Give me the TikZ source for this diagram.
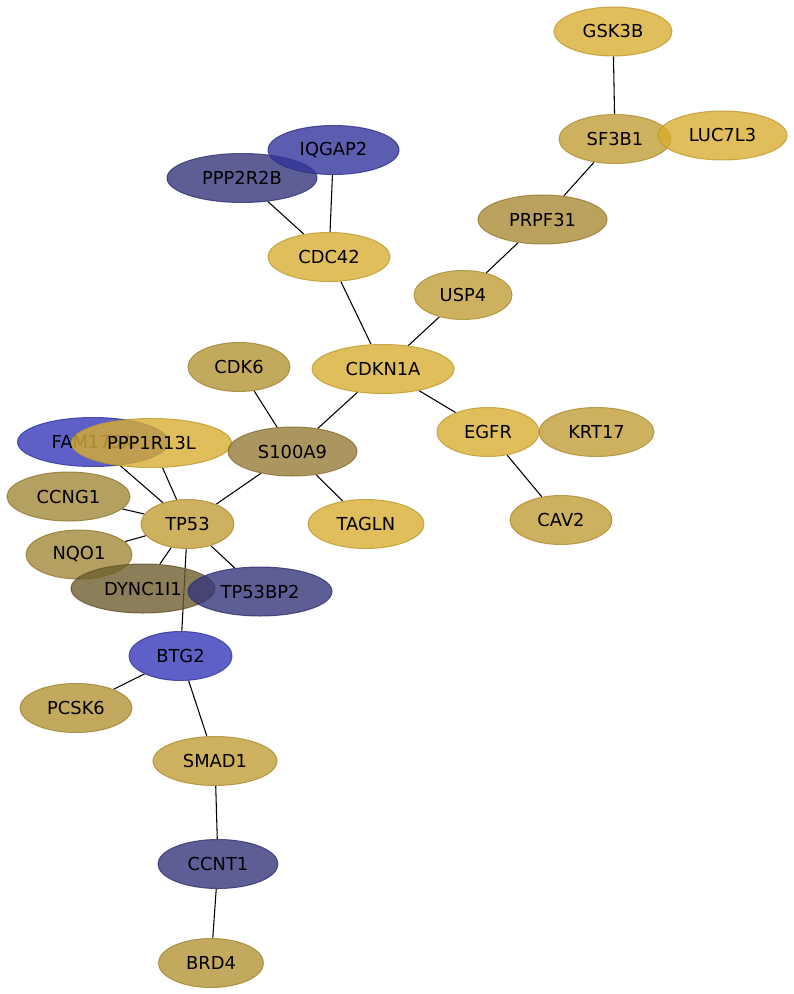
\documentclass[tikz,border=0pt]{standalone}
\usepackage{fontspec}
\setmainfont{DejaVu Sans}
\usetikzlibrary{shapes.geometric}
\pgfdeclarelayer{bg}
\pgfsetlayers{bg,main}
\definecolor{goldish}{HTML}{D7AE32}
\definecolor{tanish}{HTML}{C19E36}
\definecolor{khaki}{HTML}{B39436}
\definecolor{prpf}{HTML}{A98A36}
\definecolor{sbrown}{HTML}{977C38}
\definecolor{ccng}{HTML}{A18838}
\definecolor{olive}{HTML}{6E5E2E}
\definecolor{blueish}{HTML}{3737BA}
\definecolor{iqblue}{HTML}{33339C}
\definecolor{navy}{HTML}{36367C}

\begin{document}
\begin{tikzpicture}[x=0.75pt,y=-0.75pt,
  prot/.style 2 args={ellipse,fill=#1,draw=#1!88!black,line width=0.75pt,
    fill opacity=0.8,draw opacity=0.8,text opacity=1,inner sep=0pt,
    minimum height=49*0.75pt,minimum width=#2*0.75pt,font=\fontsize{13.4}{15}\selectfont},
  link/.style={black,line width=0.8pt}]
  \useasboundingbox (0,0) rectangle (793,994);
  \node[prot={goldish}{118}] (GSK3B) at (613,31.5) {GSK3B};
  \node[prot={tanish}{112}] (SF3B1) at (615,139) {SF3B1};
  \node[prot={goldish}{129}] (LUC7L3) at (722.5,135.5) {LUC7L3};
  \node[prot={navy}{150}] (PPP2R2B) at (242,178) {PPP2R2B};
  \node[prot={iqblue}{131}] (IQGAP2) at (333.5,150) {IQGAP2};
  \node[prot={prpf}{129}] (PRPF31) at (542.5,219.5) {PRPF31};
  \node[prot={goldish}{122}] (CDC42) at (329,257) {CDC42};
  \node[prot={tanish}{98}] (USP4) at (463,295) {USP4};
  \node[prot={khaki}{102}] (CDK6) at (239,367) {CDK6};
  \node[prot={goldish}{142}] (CDKN1A) at (383,369) {CDKN1A};
  \node[prot={blueish}{151}] (FAM175A) at (93,442) {FAM175A};
  \node[prot={goldish}{160}] (PPP1R13L) at (151.5,443) {PPP1R13L};
  \node[prot={sbrown}{129}] (S100A9) at (292.5,451.5) {S100A9};
  \node[prot={goldish}{102}] (EGFR) at (488,432) {EGFR};
  \node[prot={tanish}{115}] (KRT17) at (596.5,432) {KRT17};
  \node[prot={ccng}{123}] (CCNG1) at (68.5,496.5) {CCNG1};
  \node[prot={tanish}{93}] (TP53) at (187.5,524) {TP53};
  \node[prot={goldish}{116}] (TAGLN) at (366,524) {TAGLN};
  \node[prot={tanish}{102}] (CAV2) at (561,520) {CAV2};
  \node[prot={ccng}{106}] (NQO1) at (79,554.5) {NQO1};
  \node[prot={olive}{144}] (DYNC1I1) at (143,588.5) {DYNC1I1};
  \node[prot={navy}{144}] (TP53BP2) at (260,591.5) {TP53BP2};
  \node[prot={blueish}{103}] (BTG2) at (180.5,656) {BTG2};
  \node[prot={khaki}{112}] (PCSK6) at (76,708) {PCSK6};
  \node[prot={tanish}{124}] (SMAD1) at (215,761) {SMAD1};
  \node[prot={navy}{120}] (CCNT1) at (218,864) {CCNT1};
  \node[prot={khaki}{105}] (BRD4) at (211,963) {BRD4};
  % interactions
  \begin{pgfonlayer}{bg}
    \draw[link] (GSK3B)--(SF3B1);
    \draw[link] (SF3B1)--(LUC7L3);
    \draw[link] (SF3B1)--(PRPF31);
    \draw[link] (PRPF31)--(USP4);
    \draw[link] (USP4)--(CDKN1A);
    \draw[link] (CDKN1A)--(CDC42);
    \draw[link] (CDC42)--(IQGAP2);
    \draw[link] (CDC42)--(PPP2R2B);
    \draw[link] (CDKN1A)--(S100A9);
    \draw[link] (CDKN1A)--(EGFR);
    \draw[link] (EGFR)--(KRT17);
    \draw[link] (EGFR)--(CAV2);
    \draw[link] (CDK6)--(S100A9);
    \draw[link] (S100A9)--(TAGLN);
    \draw[link] (S100A9)--(TP53);
    \draw[link] (TP53)--(FAM175A);
    \draw[link] (TP53)--(PPP1R13L);
    \draw[link] (TP53)--(CCNG1);
    \draw[link] (TP53)--(NQO1);
    \draw[link] (TP53)--(DYNC1I1);
    \draw[link] (TP53)--(TP53BP2);
    \draw[link] (TP53)--(BTG2);
    \draw[link] (BTG2)--(PCSK6);
    \draw[link] (BTG2)--(SMAD1);
    \draw[link] (SMAD1)--(CCNT1);
    \draw[link] (CCNT1)--(BRD4);
  \end{pgfonlayer}
\end{tikzpicture}
\end{document}
